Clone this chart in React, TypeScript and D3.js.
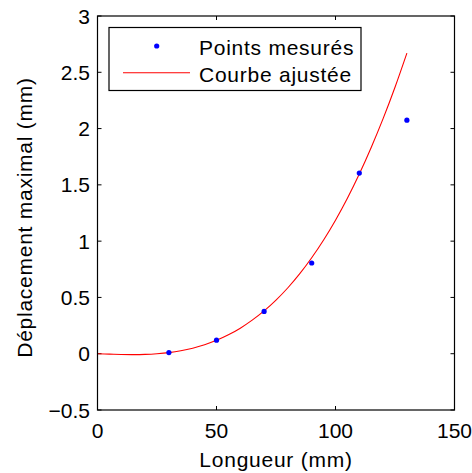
import React from "react";
import * as d3 from "d3";

const measuredX = [30, 50, 70, 90, 110, 130];
const measuredY = [0.01, 0.12, 0.376, 0.806, 1.605, 2.075];

const fitX = [0, 5, 10, 15, 20, 25, 30, 35, 40, 45, 50, 55, 60, 65, 70, 75, 80, 85, 90, 95, 100, 105, 110, 115, 120, 125, 130];
const fitY = [0, -0.004, -0.007, -0.008, -0.006, 0.0, 0.01, 0.026, 0.049, 0.08, 0.119, 0.168, 0.227, 0.298, 0.38, 0.476, 0.586, 0.711, 0.852, 1.01, 1.186, 1.381, 1.596, 1.832, 2.088, 2.367, 2.67];

const xTicks = [0, 50, 100, 150];
const yTicks = [-0.5, 0, 0.5, 1, 1.5, 2, 2.5, 3];

const xLabel = "Longueur (mm)";
const yLabel = "Déplacement maximal (mm)";
const legendLabels = ["Points mesurés", "Courbe ajustée"];

const W = 472;
const H = 473;
const L = 97.5;
const R = 454.5;
const T = 16;
const B = 410;
const FONT = "'Liberation Sans', Arial, Helvetica, sans-serif";
const FS = 21;
const LS = 0.75;

export default function App() {
  const x = d3.scaleLinear().domain([0, 150]).range([L, R]);
  const y = d3.scaleLinear().domain([-0.5, 3]).range([B, T]);
  const line = d3
    .line<number>()
    .x((_, i) => x(fitX[i]))
    .y((d) => y(d))
    .curve(d3.curveCatmullRom);
  const fmt = (v: number) => (v < 0 ? "\u2212" + String(-v) : String(v));
  const tl = 4;

  return (
    <svg
      width={W}
      height={H}
      style={{ position: "absolute", left: 0, top: 0, background: "#fff" }}
      fontFamily={FONT}
    >
      <rect x={0} y={0} width={W} height={H} fill="#fff" />
      <defs>
        <clipPath id="plotclip">
          <rect x={L} y={T} width={R - L} height={B - T} />
        </clipPath>
      </defs>
      {/* ticks */}
      {xTicks.map((t) => (
        <g key={"xt" + t}>
          <line x1={x(t)} x2={x(t)} y1={B} y2={B - tl} stroke="#000" strokeWidth={1} />
          <line x1={x(t)} x2={x(t)} y1={T} y2={T + tl} stroke="#000" strokeWidth={1} />
          <text x={x(t)} y={438} textAnchor="middle" fontSize={FS} fill="#000">
            {fmt(t)}
          </text>
        </g>
      ))}
      {yTicks.map((t) => (
        <g key={"yt" + t}>
          <line x1={L} x2={L + tl} y1={y(t)} y2={y(t)} stroke="#000" strokeWidth={1} />
          <line x1={R} x2={R - tl} y1={y(t)} y2={y(t)} stroke="#000" strokeWidth={1} />
          <text x={90} y={y(t)} dy="0.36em" textAnchor="end" fontSize={FS} fill="#000">
            {fmt(t)}
          </text>
        </g>
      ))}
      {/* data */}
      <g clipPath="url(#plotclip)">
        <path d={line(fitY) || ""} fill="none" stroke="#ff0000" strokeWidth={1.1} />
        {measuredY.map((v, i) => (
          <circle key={"p" + i} cx={x(measuredX[i])} cy={y(v)} r={2.6} fill="#0000ff" />
        ))}
      </g>
      {/* axes box */}
      <rect x={L} y={T} width={R - L} height={B - T} fill="none" stroke="#000" strokeWidth={1.2} />
      {/* axis labels */}
      <text x={(L + R) / 2} y={466.5} textAnchor="middle" fontSize={FS} letterSpacing={LS} fill="#000">
        {xLabel}
      </text>
      <text
        transform={`translate(32,217.5) rotate(-90)`}
        textAnchor="middle"
        fontSize={FS}
        letterSpacing={LS}
        fill="#000"
      >
        {yLabel}
      </text>
      {/* legend */}
      <rect x={109} y={27.5} width={252} height={63} fill="#fff" stroke="#000" strokeWidth={1.2} />
      <circle cx={156.7} cy={46} r={2.6} fill="#0000ff" />
      <line x1={123} x2={190} y1={72.7} y2={72.7} stroke="#ff0000" strokeWidth={1.1} />
      <text x={199} y={54.5} fontSize={FS} letterSpacing={LS} fill="#000">
        {legendLabels[0]}
      </text>
      <text x={199} y={82} fontSize={FS} letterSpacing={LS} fill="#000">
        {legendLabels[1]}
      </text>
    </svg>
  );
}
